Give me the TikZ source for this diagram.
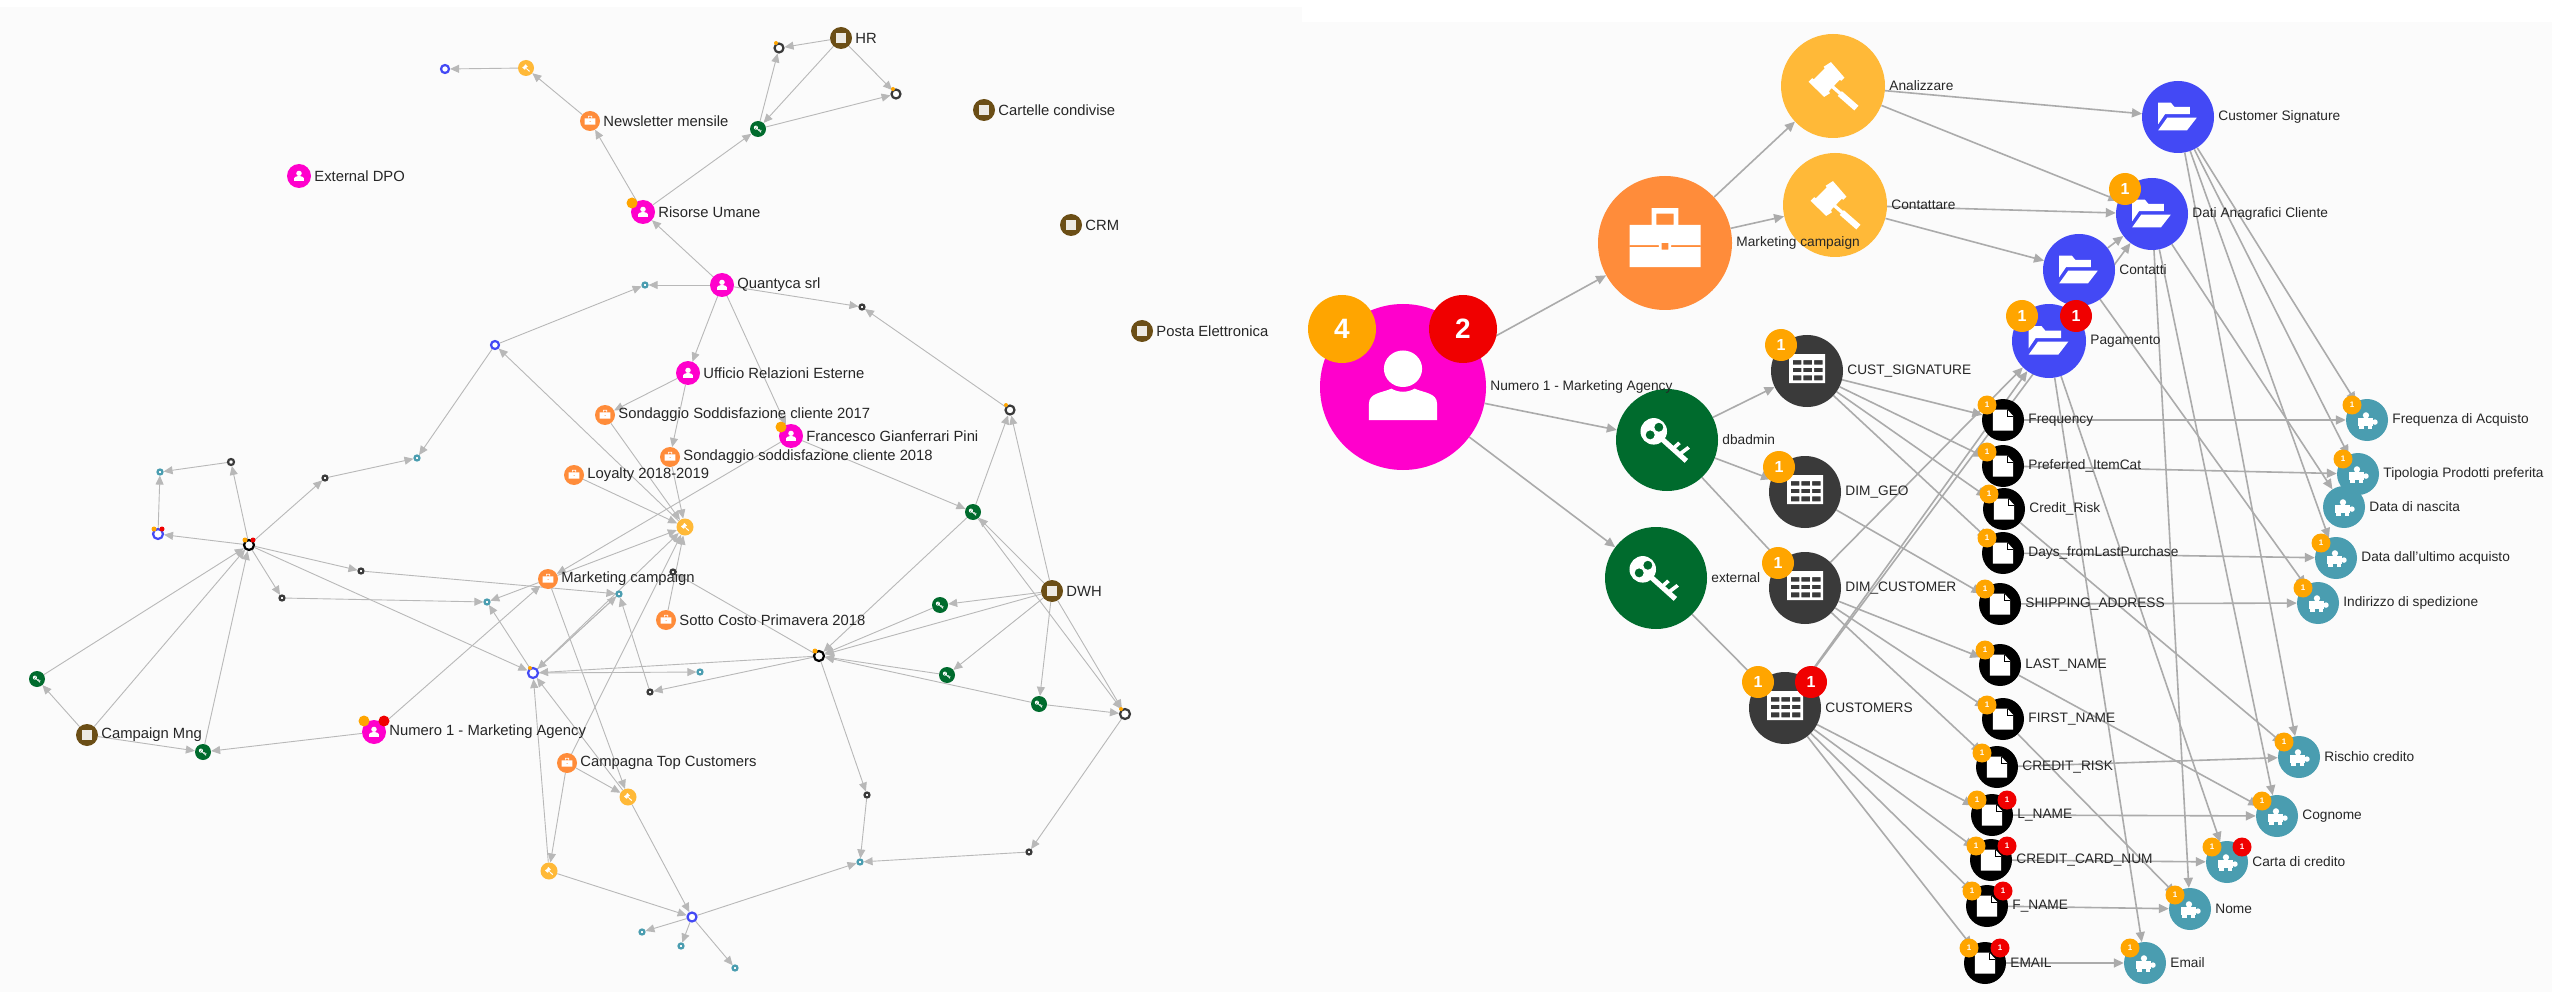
\documentclass[tikz,border=0pt]{standalone}
\usepackage{fontspec}
\setmainfont{Liberation Sans}
\usetikzlibrary{arrows.meta,backgrounds}
\definecolor{cmag}{HTML}{FF00CC}
\definecolor{corg}{HTML}{FF8C3A}
\definecolor{cyel}{HTML}{FFB938}
\definecolor{cblu}{HTML}{4349F5}
\definecolor{cgrn}{HTML}{006B2D}
\definecolor{cdrk}{HTML}{3A3A3A}
\definecolor{cteal}{HTML}{4A9DB0}
\definecolor{cbrn}{HTML}{6B4E16}
\definecolor{cbad}{HTML}{FFA500}
\definecolor{cred}{HTML}{F00000}
\definecolor{cedge}{HTML}{ABABAB}
\definecolor{cpanel}{HTML}{FBFBFB}
\tikzset{
 redge/.style={draw=cedge,line width=1.6pt,-{Triangle[length=10pt,width=9pt]}},
 ledge/.style={draw=cedge!85,line width=.9pt,-{Triangle[length=9pt,width=8pt]}},
 rlab/.style={inner sep=0pt,text=black!85,font=\fontsize{13.7}{15}\selectfont},
 llab/.style={inner sep=0pt,text=black!85,font=\fontsize{14.8}{16}\selectfont},
 bL/.style={font=\fontsize{28}{30}\bfseries\selectfont},
 bM/.style={font=\fontsize{16}{18}\bfseries\selectfont},
 bS/.style={font=\fontsize{8}{9}\bfseries\selectfont},
 bT/.style={font=\fontsize{1}{1}\selectfont},
 icperson/.pic={
  \fill[white] (0,-.22) ellipse (.23 and .22);
  \fill[white] (-.41,.40) -- (-.41,.2) .. controls (-.41,.07) and (-.25,.07) .. (-.14,.02) .. controls (-.05,.07) and (.05,.07) .. (.14,.02) .. controls (.25,.07) and (.41,.07) .. (.41,.2) -- (.41,.40) -- cycle;},
 icbrief/.pic={
  \fill[white,even odd rule] (-.53,-.27) rectangle (.53,.36)
    (-.53,.03) rectangle (-.09,.06) (.09,.03) rectangle (.53,.06)
    (-.05,.0) rectangle (.05,.1);
  \fill[white,even odd rule] (-.2,-.52) rectangle (.2,-.27) (-.13,-.44) rectangle (.13,-.27);},
 icgavel/.pic={
  \fill[white] (-.04,-.46) -- (.22,-.16) -- (.16,-.10) -- (.13,-.12) -- (-.08,.10) -- (-.06,.14) -- (-.17,.21) -- (-.47,-.08) -- (-.40,-.15) -- (-.37,-.13) -- (-.16,-.34) -- (-.18,-.37) -- cycle;
  \fill[white] (.0,-.02) -- (.16,.12) -- (.12,.17) -- (-.04,.03) -- cycle;
  \fill[white] (.17,.1) -- (.49,.38) -- (.41,.47) -- (.09,.19) -- cycle;},
 icfolder/.pic={
  \fill[white] (-.55,-.4) -- (-.2,-.4) -- (-.1,-.28) -- (.33,-.28) -- (.33,-.08) -- (-.36,-.08) -- (-.55,.2) -- cycle;
  \fill[white] (-.55,.37) -- (-.3,.02) -- (.52,.02) -- (.25,.37) -- cycle;},
 ickey/.pic={
  \fill[white,even odd rule] (-.26,-.17) circle (.26) (-.33,-.1) circle (.09) (-.16,-.25) circle (.09);
  \fill[white] (-.067,-.058) -- (.413,.372) -- (.347,.448) -- (-.133,.018) -- cycle;
  \fill[white] (.12,.12) -- (.22,.03) -- (.27,.08) -- (.17,.17) -- cycle;
  \fill[white] (.24,.24) -- (.40,.12) -- (.45,.17) -- (.29,.29) -- cycle;},
 ictable/.pic={
  \fill[white,even odd rule] (-.5,-.47) rectangle (.5,.34)
   (-.39,-.30) rectangle (-.16,-.18) (-.10,-.30) rectangle (.14,-.18) (.2,-.30) rectangle (.43,-.18)
   (-.39,-.09) rectangle (-.16,.03) (-.10,-.09) rectangle (.14,.03) (.2,-.09) rectangle (.43,.03)
   (-.39,.12) rectangle (-.16,.26) (-.10,.12) rectangle (.14,.26) (.2,.12) rectangle (.43,.26);},
 icfile/.pic={
  \fill[white] (-.48,-.5) -- (.2,-.5) -- (.48,-.2) -- (.48,.5) -- (-.48,.5) -- cycle;
  \draw[black,line width=.6pt] (.2,-.5) -- (.2,-.2) -- (.48,-.2);},
 icpuzzle/.pic={
  \fill[white] (-.45,-.1) rectangle (.3,.3);
  \fill[white] (-.05,-.22) circle (.15);
  \fill[white] (.38,.1) circle (.13);
  \fill[white] (-.38,.3) rectangle (-.15,.42);
  \fill[white] (.05,.3) rectangle (.25,.42);},
 icdb/.pic={\fill[white!88!cbrn] (-.42,-.42) rectangle (.42,.42);},
}
\newcommand{\bign}[6]{\node[circle,inner sep=0pt,fill=#5,minimum size=2*#4 pt] (#1) at (#2,#3) {}; \pic[scale=#4] at (#2,#3) {#6};}
\newcommand{\ringn}[5]{\node[circle,inner sep=0pt,fill=white,draw=#5,line width=2.2pt,minimum size=2*#4 pt] (#1) at (#2,#3) {};}
\newcommand{\bdg}[7]{\node[circle,inner sep=0pt,fill=#5,text=white,minimum size=2*#4 pt,#6] (#1) at (#2,#3) {#7};}
\newcommand{\rlb}[2]{\node[rlab,anchor=west] (#1l) at ([xshift=4pt]#1.east) {#2};}
\newcommand{\llb}[2]{\node[llab,anchor=west] (#1l) at ([xshift=3pt]#1.east) {#2};}
\begin{document}
\begin{tikzpicture}[x=1pt,y=-1pt]
\useasboundingbox (0,0) rectangle (2552,992);
\begin{scope}[on background layer]
 \fill[white] (0,0) rectangle (2552,992);
 \fill[cpanel] (0,7) rectangle (1302,992);
 \fill[cpanel] (1302,22) rectangle (2552,992);
\end{scope}
% ---------- left graph
\bign{HR}{841}{38}{11}{cbrn}{icdb}\llb{HR}{HR}
\bign{Cart}{984}{110}{11}{cbrn}{icdb}\llb{Cart}{Cartelle condivise}
\bign{CRM}{1071}{225}{11}{cbrn}{icdb}\llb{CRM}{CRM}
\bign{Posta}{1142}{331}{11}{cbrn}{icdb}\llb{Posta}{Posta Elettronica}
\bign{DWH}{1052}{591}{11}{cbrn}{icdb}\llb{DWH}{DWH}
\bign{CMng}{87}{735}{11}{cbrn}{icdb}\llb{CMng}{Campaign Mng}
\bign{EDPO}{299}{176}{12}{cmag}{icperson}\llb{EDPO}{External DPO}
\bign{Ris}{643}{212}{12}{cmag}{icperson}\llb{Ris}{Risorse Umane}
\bign{Quan}{722}{285}{12}{cmag}{icperson}\llb{Quan}{Quantyca srl}
\bign{Uff}{688}{373}{12}{cmag}{icperson}\llb{Uff}{Ufficio Relazioni Esterne}
\bign{Fra}{791}{436}{12}{cmag}{icperson}\llb{Fra}{Francesco Gianferrari Pini}
\bign{Num}{374}{732}{12}{cmag}{icperson}\llb{Num}{Numero 1 - Marketing Agency}
\bign{News}{590}{121}{10}{corg}{icbrief}\llb{News}{Newsletter mensile}
\bign{S17}{605}{415}{10}{corg}{icbrief}\llb{S17}{Sondaggio Soddisfazione cliente 2017}
\bign{S18}{670}{457}{10}{corg}{icbrief}\llb{S18}{Sondaggio soddisfazione cliente 2018}
\bign{Loy}{574}{475}{10}{corg}{icbrief}\llb{Loy}{Loyalty 2018-2019}
\bign{MC}{548}{579}{10}{corg}{icbrief}\llb{MC}{Marketing campaign}
\bign{Sot}{666}{620}{10}{corg}{icbrief}\llb{Sot}{Sotto Costo Primavera 2018}
\bign{CTC}{567}{763}{10}{corg}{icbrief}\llb{CTC}{Campagna Top Customers}
\bign{aN}{526}{68}{8}{cyel}{icgavel}
\bign{aA}{685}{527}{8.5}{cyel}{icgavel}
\bign{aB}{628}{797}{8.5}{cyel}{icgavel}
\bign{aC}{549}{871}{8.5}{cyel}{icgavel}
\bign{gHR}{758}{129}{8}{cgrn}{ickey}
\bign{gA}{973}{512}{8}{cgrn}{ickey}
\bign{gB}{940}{605}{8}{cgrn}{ickey}
\bign{gC}{947}{675}{8}{cgrn}{ickey}
\bign{gD}{1039}{704}{8}{cgrn}{ickey}
\bign{gE}{37}{679}{8}{cgrn}{ickey}
\bign{gF}{203}{752}{8}{cgrn}{ickey}
\ringn{vN}{445}{69}{4}{cblu}
\ringn{vA}{495}{345}{4}{cblu}
\ringn{vB}{158}{534}{5}{cblu}
\ringn{vC}{533}{673}{5}{cblu}
\ringn{vD}{692}{917}{4.5}{cblu}
\ringn{kA}{779}{48}{4.5}{cdrk}
\ringn{kB}{896}{94}{4.5}{cdrk}
\ringn{kC}{1010}{410}{4.5}{cdrk}
\ringn{kD}{249}{545}{5}{black}
\ringn{kE}{819}{656}{5}{black}
\ringn{kF}{1125}{714}{5}{cdrk}
\ringn{sA}{862}{307}{2.5}{cdrk}
\ringn{sB}{325}{478}{2.5}{cdrk}
\ringn{sC}{231}{462}{3}{cdrk}
\ringn{sD}{361}{571}{2.5}{cdrk}
\ringn{sE}{282}{598}{2.5}{cdrk}
\ringn{sF}{650}{692}{2.5}{cdrk}
\ringn{sG}{867}{795}{2.5}{cdrk}
\ringn{sH}{1029}{852}{2.5}{cdrk}
\ringn{sI}{673}{572}{2.5}{cdrk}
\ringn{tA}{645}{285}{2.5}{cteal}
\ringn{tB}{417}{458}{2.5}{cteal}
\ringn{tC}{160}{472}{2.5}{cteal}
\ringn{tD}{619}{594}{2.5}{cteal}
\ringn{tE}{487}{602}{2.5}{cteal}
\ringn{tF}{700}{672}{2.5}{cteal}
\ringn{tG}{860}{862}{2.5}{cteal}
\ringn{tH}{642}{932}{2.5}{cteal}
\ringn{tI}{681}{946}{2.5}{cteal}
\ringn{tJ}{735}{968}{2.5}{cteal}
\bdg{bRis}{632}{203}{5.5}{cbad}{bT}{}
\bdg{bFra}{781}{427}{5.5}{cbad}{bT}{}
\bdg{bNa}{364}{721}{5.5}{cbad}{bT}{}
\bdg{bNb}{384}{721}{5.5}{cred}{bT}{}
\bdg{bkA}{776}{43}{2}{cbad}{bT}{}
\bdg{bkB}{893}{89}{2}{cbad}{bT}{}
\bdg{bkC}{1006}{405}{2}{cbad}{bT}{}
\bdg{bkDa}{245}{540}{2.5}{cbad}{bT}{}
\bdg{bkDb}{253}{540}{2.5}{cred}{bT}{}
\bdg{bvBa}{154}{529}{2.5}{cbad}{bT}{}
\bdg{bvBb}{162}{529}{2.5}{cred}{bT}{}
\bdg{bkE}{815}{651}{2.5}{cbad}{bT}{}
\bdg{bvC}{530}{668}{2}{cbad}{bT}{}
\bdg{bkF}{1121}{709}{2}{cbad}{bT}{}
% ---------- right graph
\bign{P}{1403}{387}{83}{cmag}{icperson}
\bign{Br}{1665}{243}{67}{corg}{icbrief}
\bign{An}{1833}{86}{52}{cyel}{icgavel}\rlb{An}{Analizzare}
\bign{Co}{1835}{205}{52}{cyel}{icgavel}\rlb{Co}{Contattare}
\bign{CS}{2178}{117}{36}{cblu}{icfolder}\rlb{CS}{Customer Signature}
\bign{DA}{2152}{214}{36}{cblu}{icfolder}\rlb{DA}{Dati Anagrafici Cliente}
\bign{Ct}{2079}{270}{36}{cblu}{icfolder}\rlb{Ct}{Contatti}
\bign{Pg}{2049}{341}{37}{cblu}{icfolder}\rlb{Pg}{Pagamento}
\bign{db}{1667}{440}{51}{cgrn}{ickey}\rlb{db}{dbadmin}
\bign{ex}{1656}{578}{51}{cgrn}{ickey}\rlb{ex}{external}
\rlb{P}{Numero 1 - Marketing Agency}
\rlb{Br}{Marketing campaign}
\bign{TS}{1807}{371}{36}{cdrk}{ictable}\rlb{TS}{CUST\_SIGNATURE}
\bign{TG}{1805}{492}{36}{cdrk}{ictable}\rlb{TG}{DIM\_GEO}
\bign{TD}{1805}{588}{36}{cdrk}{ictable}\rlb{TD}{DIM\_CUSTOMER}
\bign{TC}{1785}{708}{36}{cdrk}{ictable}\rlb{TC}{CUSTOMERS}
\bign{f1}{2003}{420}{21}{black}{icfile}\rlb{f1}{Frequency}
\bign{f2}{2003}{466}{21}{black}{icfile}\rlb{f2}{Preferred\_ItemCat}
\bign{f3}{2004}{509}{21}{black}{icfile}\rlb{f3}{Credit\_Risk}
\bign{f4}{2003}{553}{21}{black}{icfile}\rlb{f4}{Days\_fromLastPurchase}
\bign{f5}{2000}{604}{21}{black}{icfile}\rlb{f5}{SHIPPING\_ADDRESS}
\bign{f6}{2000}{665}{21}{black}{icfile}\rlb{f6}{LAST\_NAME}
\bign{f7}{2003}{719}{21}{black}{icfile}\rlb{f7}{FIRST\_NAME}
\bign{f8}{1997}{767}{21}{black}{icfile}\rlb{f8}{CREDIT\_RISK}
\bign{f9}{1992}{815}{21}{black}{icfile}\rlb{f9}{L\_NAME}
\bign{fa}{1991}{860}{21}{black}{icfile}\rlb{fa}{CREDIT\_CARD\_NUM}
\bign{fb}{1987}{906}{21}{black}{icfile}\rlb{fb}{F\_NAME}
\bign{fc}{1985}{963}{21}{black}{icfile}\rlb{fc}{EMAIL}
\bign{c1}{2367}{420}{21}{cteal}{icpuzzle}\rlb{c1}{Frequenza di Acquisto}
\bign{c2}{2358}{474}{21}{cteal}{icpuzzle}\rlb{c2}{Tipologia Prodotti preferita}
\bign{c3}{2344}{507}{21}{cteal}{icpuzzle}\rlb{c3}{Data di nascita}
\bign{c4}{2336}{558}{21}{cteal}{icpuzzle}\rlb{c4}{Data dall'ultimo acquisto}
\bign{c5}{2318}{603}{21}{cteal}{icpuzzle}\rlb{c5}{Indirizzo di spedizione}
\bign{c6}{2299}{757}{21}{cteal}{icpuzzle}\rlb{c6}{Rischio credito}
\bign{c7}{2277}{816}{21}{cteal}{icpuzzle}\rlb{c7}{Cognome}
\bign{c8}{2227}{862}{21}{cteal}{icpuzzle}\rlb{c8}{Carta di credito}
\bign{c9}{2190}{909}{21}{cteal}{icpuzzle}\rlb{c9}{Nome}
\bign{ca}{2145}{963}{21}{cteal}{icpuzzle}\rlb{ca}{Email}
% big badges
\bdg{b4}{1342}{329}{34}{cbad}{bL}{4}
\bdg{b2}{1463}{329}{34}{cred}{bL}{2}
\bdg{bDA}{2125}{189}{16}{cbad}{bM}{1}
\bdg{bPa}{2022}{316}{16}{cbad}{bM}{1}
\bdg{bPb}{2076}{316}{16}{cred}{bM}{1}
\bdg{bTS}{1781}{345}{16}{cbad}{bM}{1}
\bdg{bTG}{1779}{467}{16}{cbad}{bM}{1}
\bdg{bTD}{1778}{563}{16}{cbad}{bM}{1}
\bdg{bTCa}{1758}{682}{16}{cbad}{bM}{1}
\bdg{bTCb}{1811}{682}{16}{cred}{bM}{1}
\bdg{bf1}{1987}{405}{9.5}{cbad}{bS}{1}
\bdg{bf2}{1987}{452}{9.5}{cbad}{bS}{1}
\bdg{bf3}{1989}{494}{9.5}{cbad}{bS}{1}
\bdg{bf4}{1987}{538}{9.5}{cbad}{bS}{1}
\bdg{bf5}{1985}{589}{9.5}{cbad}{bS}{1}
\bdg{bf6}{1985}{650}{9.5}{cbad}{bS}{1}
\bdg{bf7}{1987}{705}{9.5}{cbad}{bS}{1}
\bdg{bf8}{1982}{753}{9.5}{cbad}{bS}{1}
\bdg{bf9a}{1977}{800}{9.5}{cbad}{bS}{1}
\bdg{bf9b}{2007}{800}{9.5}{cred}{bS}{1}
\bdg{bfaa}{1976}{846}{9.5}{cbad}{bS}{1}
\bdg{bfab}{2007}{846}{9.5}{cred}{bS}{1}
\bdg{bfba}{1972}{891}{9.5}{cbad}{bS}{1}
\bdg{bfbb}{2003}{891}{9.5}{cred}{bS}{1}
\bdg{bfca}{1969}{948}{9.5}{cbad}{bS}{1}
\bdg{bfcb}{2000}{948}{9.5}{cred}{bS}{1}
\bdg{bc1}{2352}{405}{9.5}{cbad}{bS}{1}
\bdg{bc2}{2343}{459}{9.5}{cbad}{bS}{1}
\bdg{bc4}{2321}{543}{9.5}{cbad}{bS}{1}
\bdg{bc5}{2303}{588}{9.5}{cbad}{bS}{1}
\bdg{bc6}{2284}{742}{9.5}{cbad}{bS}{1}
\bdg{bc7}{2262}{801}{9.5}{cbad}{bS}{1}
\bdg{bc8a}{2212}{847}{9.5}{cbad}{bS}{1}
\bdg{bc8b}{2242}{847}{9.5}{cred}{bS}{1}
\bdg{bc9}{2175}{895}{9.5}{cbad}{bS}{1}
\bdg{bca}{2130}{948}{9.5}{cbad}{bS}{1}
% ---------- connectors
\begin{scope}[on background layer]
\foreach \a/\b in {aN/vN,News/aN,Ris/News,Ris/gHR,Quan/Ris,HR/kA,HR/gHR,gHR/kA,HR/kB,gHR/kB,
 Quan/tA,vA/tA,Quan/sA,kC/sA,Quan/Uff,Quan/Fra,Uff/S17,Uff/S18,vA/tB,aA/vA,sB/tB,kD/sB,kD/sC,sC/tC,vB/tC,kD/vB,
 kD/sD,kD/sE,sE/tE,kD/vC,sD/tD,MC/tE,vC/tE,vC/tD,tD/vC,vC/tF,kE/vC,kE/sF,sF/tD,
 S17/aA,S18/aA,Loy/aA,MC/aA,Fra/MC,CTC/aA,Sot/aA,vC/aA,kE/sI,Num/MC,Num/gF,CMng/gF,CMng/gE,gE/kD,CMng/kD,gF/kD,
 MC/aB,CTC/aB,CTC/aC,aB/vC,aC/vC,aB/vD,aC/vD,vD/tH,vD/tI,vD/tJ,vD/tG,kE/sG,sG/tG,kF/sH,sH/tG,
 Fra/gA,gA/kC,DWH/kC,DWH/gA,gA/kE,DWH/kE,DWH/gB,gB/kE,DWH/gC,DWH/gD,gC/kE,gD/kE,gD/kF,DWH/kF,gA/kF}
 {\draw[ledge] (\a) -- (\b);}
\foreach \a/\b in {P/Br,P/db,P/ex,Br/An,Br/Co,An/CS,An/DA,Co/DA,Co/Ct,Ct/DA,
 db/TS,db/TG,db/TD,ex/TC,TD/Pg,TC/Pg,TC/DA,
 TS/f1,TS/f2,TS/f3,TS/f4,TG/f5,TD/f6,TD/f7,TD/f8,TC/f9,TC/fa,TC/fb,TC/fc,
 f1/c1,f2/c2,f4/c4,f5/c5,f8/c6,f9/c7,fa/c8,fb/c9,fc/ca,f3/c6,f6/c7,f7/c9,
 CS/c1,CS/c2,CS/c4,CS/c6,DA/c3,DA/c7,DA/c9,Ct/c5,Pg/ca,Pg/c8}
 {\draw[redge] (\a) -- (\b);}
\end{scope}
\end{tikzpicture}
\end{document}
